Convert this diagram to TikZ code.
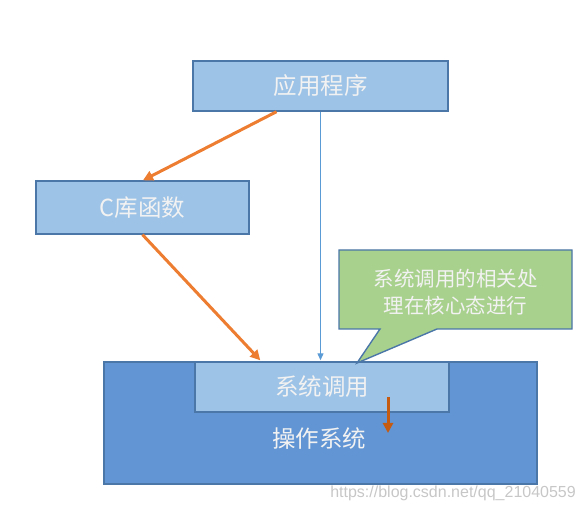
\documentclass[tikz,border=0pt]{standalone}
\usepackage{fontspec}
\newfontfamily\cjk{Noto Sans CJK SC}
\newfontfamily\wm{Liberation Sans}
\usetikzlibrary{arrows.meta,calc}
\definecolor{boxfill}{HTML}{9DC3E6}
\definecolor{boxline}{HTML}{4A76A8}
\definecolor{osfill}{HTML}{6195D4}
\definecolor{calfill}{HTML}{A9D18E}
\definecolor{orangeA}{HTML}{ED7D31}
\definecolor{orangeB}{HTML}{C55A11}
\definecolor{thinblue}{HTML}{5B9BD5}
\definecolor{txt}{HTML}{F2F2F2}
\tikzset{
  blk/.style={draw=boxline, line width=1.4pt, fill=boxfill, inner sep=0pt, text=txt, font=\cjk\fontsize{23.5}{27}\selectfont},
  osblk/.style={draw=boxline, line width=1.4pt, fill=osfill, inner sep=0pt},
  oarrow/.style={draw=orangeA, line width=3pt, -{Triangle[length=10pt,width=10pt]}},
  barrow/.style={draw=thinblue, line width=1.2pt, -{Triangle[length=7pt,width=6pt]}},
  darrow/.style={draw=orangeB, line width=3pt, -{Triangle[length=10pt,width=10pt]}},
  lbl/.style={text=txt, font=\cjk\fontsize{23.5}{27}\selectfont},
}
\begin{document}
\begin{tikzpicture}[x=1pt,y=-1pt]
\useasboundingbox (0,0) rectangle (584,510);
\node[osblk, minimum width=433pt, minimum height=122pt] (os) at (320.5,423) {};
\node[blk, minimum width=254pt, minimum height=50pt] (sys) at (322,387) {系统调用};
\node[lbl] (ostxt) at (319,439) {操作系统};
\node[blk, minimum width=255pt, minimum height=50pt] (app) at (320.5,86) {应用程序};
\node[blk, minimum width=213pt, minimum height=53pt] (clib) at (142.5,207.5) {C库函数};
% callout
\coordinate (tip) at (357,363);
\draw[draw=boxline, line width=1.4pt, fill=calfill, line join=miter]
  (339,250) -- (572,250) -- (572,329) -- (437,329) -- (tip) -- (380,329) -- (339,329) -- cycle;
\node[text=txt, font=\cjk\fontsize{20.5}{27}\selectfont, align=center] (call) at (455.5,292) {系统调用的相关处\\理在核心态进行};
% connectors
\draw[oarrow] ($(app.south)+(-44,0)$) -- ($(clib.north)+(0.5,0)$);
\draw[oarrow] ($(clib.south)+(0,0)$) -- ($(sys.north west)+(66,-1)$);
\draw[barrow] ($(app.south)+(0,0)$) -- ($(sys.north)+(-1.5,-1)$);
\draw[darrow] ($(sys.center)+(66,10)$) coordinate (d0) -- ($(sys.center)+(66,46)$) coordinate (d1);
% watermark
\node[anchor=east, text=black!22, font=\wm\fontsize{16}{18}\selectfont, inner sep=0pt] (wmk) at (576,493) {https://blog.csdn.net/qq\_21040559};
\end{tikzpicture}
\end{document}
